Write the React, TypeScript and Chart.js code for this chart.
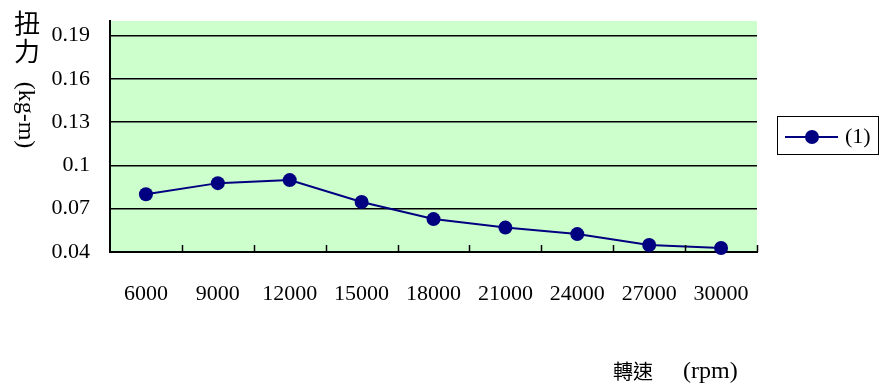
import React, { useEffect, useRef } from "react";
import { Chart, registerables } from "chart.js";

Chart.register(...registerables);

const categories = ["6000", "9000", "12000", "15000", "18000", "21000", "24000", "27000", "30000"];
const torque = [0.080, 0.0877, 0.0898, 0.0746, 0.0628, 0.0569, 0.0524, 0.0448, 0.0428];
const yTicks = [0.04, 0.07, 0.1, 0.13, 0.16, 0.19];
const seriesName = "(1)";
const yTitleCJK = ["扭", "力"];
const yTitleUnit = "(kg-m)";
const xTitleCJK = "轉速";
const xTitleUnit = "(rpm)";

const SERIF = "'Liberation Serif', 'DejaVu Serif', serif";
const CJK = "'Noto Sans CJK TC', 'Noto Sans CJK SC', sans-serif";
const NAVY = "#000080";

const decorPlugin = {
  id: "decor",
  beforeDraw(chart: any) {
    const { ctx, chartArea: a } = chart;
    ctx.save();
    ctx.fillStyle = "#CCFFCC";
    ctx.fillRect(a.left, a.top, a.right - a.left, a.bottom - a.top);
    ctx.restore();
  },
  afterDraw(chart: any) {
    const { ctx, chartArea: a } = chart;
    ctx.save();
    // inner tick marks at category boundaries
    ctx.strokeStyle = "#000";
    ctx.lineWidth = 1.5;
    const n = categories.length;
    const step = (a.right - a.left) / n;
    for (let i = 1; i <= n; i++) {
      const x = Math.round(a.left + step * i) + 0.5;
      ctx.beginPath();
      ctx.moveTo(x, a.bottom);
      ctx.lineTo(x, a.bottom - 7);
      ctx.stroke();
    }
    // y title
    ctx.fillStyle = "#000";
    ctx.font = `26px ${CJK}`;
    ctx.textAlign = "center";
    ctx.textBaseline = "middle";
    ctx.fillText(yTitleCJK[0], 27, 23);
    ctx.fillText(yTitleCJK[1], 27, 51);
    ctx.save();
    ctx.translate(25, 115);
    ctx.rotate(Math.PI / 2);
    ctx.font = `24px ${SERIF}`;
    ctx.fillText(yTitleUnit, 0, 0);
    ctx.restore();
    // x title
    ctx.textAlign = "left";
    ctx.font = `20px ${CJK}`;
    ctx.fillText(xTitleCJK, 613, 371);
    ctx.font = `24px ${SERIF}`;
    ctx.fillText(xTitleUnit, 683, 372);
    // legend
    ctx.strokeStyle = "#000";
    ctx.lineWidth = 1;
    ctx.strokeRect(777.5, 116.5, 101, 38);
    ctx.strokeStyle = NAVY;
    ctx.lineWidth = 2;
    ctx.beginPath();
    ctx.moveTo(785, 137);
    ctx.lineTo(838, 137);
    ctx.stroke();
    ctx.fillStyle = NAVY;
    ctx.beginPath();
    ctx.arc(812, 137, 7, 0, Math.PI * 2);
    ctx.fill();
    ctx.fillStyle = "#000";
    ctx.font = `22px ${SERIF}`;
    ctx.textAlign = "left";
    ctx.fillText(seriesName, 845, 137);
    ctx.restore();
  },
};

export default function App() {
  const ref = useRef<HTMLCanvasElement>(null);
  useEffect(() => {
    if (!ref.current) return;
    const chart = new Chart(ref.current, {
      type: "line",
      data: {
        labels: categories,
        datasets: [
          {
            label: seriesName,
            data: torque,
            borderColor: NAVY,
            backgroundColor: NAVY,
            borderWidth: 2,
            pointRadius: 7,
            pointBackgroundColor: NAVY,
            pointBorderWidth: 0,
            tension: 0,
            clip: false,
          },
        ],
      },
      options: {
        responsive: false,
        animation: false,
        layout: { padding: { left: 0, top: 21, right: 125, bottom: 0 } },
        plugins: { legend: { display: false }, tooltip: { enabled: false } },
        scales: {
          x: {
            offset: true,
            grid: { display: false, drawTicks: false },
            border: { display: true, color: "#000", width: 2 },
            ticks: { color: "#000", font: { family: SERIF, size: 22 }, padding: 29, maxRotation: 0 },
            afterFit(scale: any) {
              scale.height = 387 - 252;
              scale.paddingLeft = 0;
              scale.paddingRight = 0;
            },
          },
          y: {
            min: 0.04,
            max: 0.2,
            afterBuildTicks(scale: any) {
              scale.ticks = yTicks.map((v) => ({ value: v }));
            },
            grid: { color: "#000", lineWidth: 1.5, drawTicks: false },
            border: { display: true, color: "#000", width: 2 },
            ticks: {
              color: "#000",
              font: { family: SERIF, size: 22 },
              padding: 20,
              callback: (v: any) => String(Math.round(Number(v) * 100) / 100),
            },
            afterFit(scale: any) {
              scale.width = 110;
              scale.paddingTop = 0;
              scale.paddingBottom = 0;
            },
          },
        },
      },
      plugins: [decorPlugin],
    });
    return () => chart.destroy();
  }, []);
  return (
    <div style={{ position: "absolute", left: 0, top: 0, width: 882, height: 387 }}>
      <canvas ref={ref} width={882} height={387} style={{ width: 882, height: 387 }} />
    </div>
  );
}
